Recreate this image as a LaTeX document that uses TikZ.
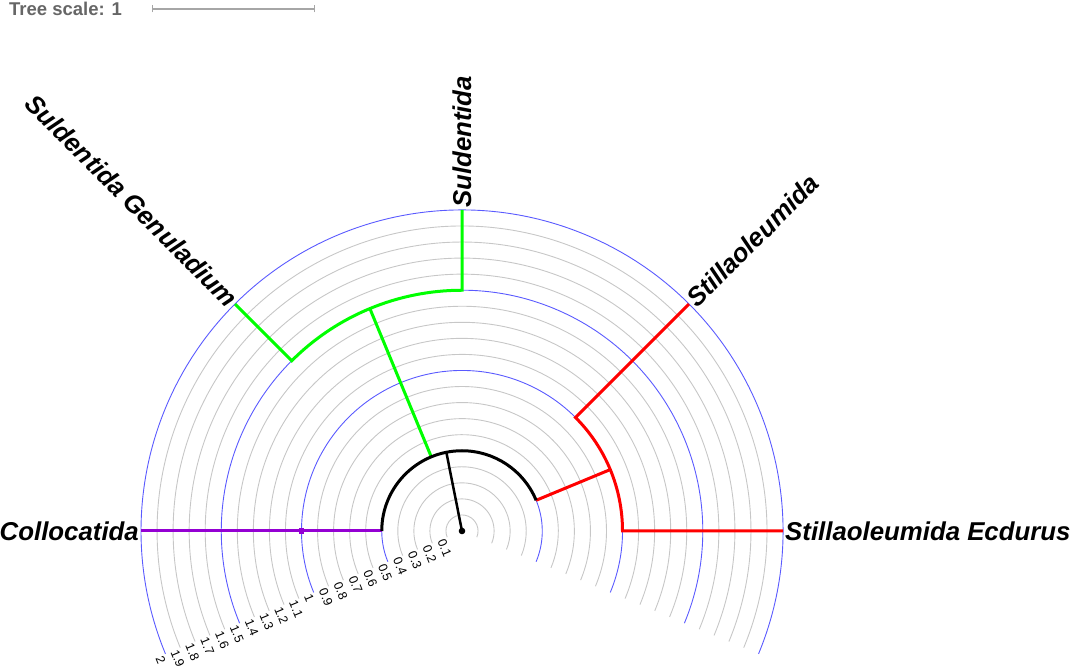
\documentclass[tikz,border=0pt]{standalone}
\usepackage{fontspec}
\setmainfont{Liberation Sans}
\usetikzlibrary{calc}
\definecolor{gridbluec}{RGB}{90,90,255}
\definecolor{purplec}{RGB}{148,0,211}
\definecolor{greenc}{RGB}{0,255,0}
\definecolor{redc}{RGB}{255,0,0}
\begin{document}
\begin{tikzpicture}[x=1pt,y=1pt,
  gridgray/.style={draw=black!22,line width=0.9pt},
  gridblue/.style={draw=gridbluec,line width=0.9pt},
  ticklabel/.style={font=\fontsize{12.5}{13}\selectfont,rotate=-67.5,anchor=west,inner sep=0pt},
  branch/.style={line width=3pt},
  leaflabel/.style={font=\fontsize{25.8}{30}\selectfont\bfseries\itshape,inner sep=2pt}]
\useasboundingbox (-462,-137) rectangle (608,531);
\def\R{160.5}
% scale
\node[anchor=west,inner sep=0pt,text=black!60,font=\fontsize{18.5}{20}\selectfont\bfseries] (scaletxt) at (-453,522) {Tree scale: 1};
\coordinate (sa) at (-309,522);
\coordinate (sb) at (-147,522);
\draw[black!35,line width=1.2pt] (sa) -- (sb);
\draw[black!35,line width=1pt] ([yshift=-3.5pt]sa) -- ([yshift=3.5pt]sa);
\draw[black!35,line width=1pt] ([yshift=-3.5pt]sb) -- ([yshift=3.5pt]sb);
% circles
\foreach \i/\lab in {1/0.1,2/0.2,3/0.3,4/0.4,5/0.5,6/0.6,7/0.7,8/0.8,9/0.9,10/1,11/1.1,12/1.2,13/1.3,14/1.4,15/1.5,16/1.6,17/1.7,18/1.8,19/1.9,20/2}{
  \pgfmathsetmacro{\r}{\i*\R/10}
  \pgfmathtruncatemacro{\m}{mod(\i,5)}
  \ifnum\m=0
    \draw[gridblue] (-22.5:\r) arc[start angle=-22.5,end angle=202.5,radius=\r];
  \else
    \draw[gridgray] (-22.5:\r) arc[start angle=-22.5,end angle=202.5,radius=\r];
  \fi
  \node[ticklabel] (t\i) at ($(202.5:\r)+(202.5:6.5)$) {\lab};
}
% tree
\coordinate (root) at (0,0);
\coordinate (n1) at (101.25:0.5*\R);
\coordinate (n1a) at (180:0.5*\R);
\coordinate (n1g) at (112.5:0.5*\R);
\coordinate (n1r) at (22.5:0.5*\R);
\coordinate (coll) at (180:2*\R);
\coordinate (collmid) at (180:\R);
\coordinate (g) at (112.5:1.5*\R);
\coordinate (ga) at (90:1.5*\R);
\coordinate (gb) at (135:1.5*\R);
\coordinate (suld) at (90:2*\R);
\coordinate (sgen) at (135:2*\R);
\coordinate (rn) at (22.5:\R);
\coordinate (ra) at (0:\R);
\coordinate (rb) at (45:\R);
\coordinate (ecd) at (0:2*\R);
\coordinate (still) at (45:2*\R);
% purple
\draw[branch,draw=purplec] (n1a) -- (coll);
\fill[purplec] ([shift={(-2.8,-2.8)}]collmid) rectangle ([shift={(2.8,2.8)}]collmid);
% green
\draw[branch,draw=greenc] (n1g) -- (g);
\draw[branch,draw=greenc] (sgen) -- (gb) arc[start angle=135,end angle=90,radius=1.5*\R] -- (suld);
% red
\draw[branch,draw=redc] (n1r) -- (rn);
\draw[branch,draw=redc] (still) -- (rb) arc[start angle=45,end angle=0,radius=\R] -- (ecd);
% black
\draw[branch] (n1a) arc[start angle=180,end angle=22.5,radius=0.5*\R];
\draw[line width=2.5pt] (root) -- (n1);
\fill (root) circle (3.3pt);
% leaf labels
\node[leaflabel,anchor=east] (lcoll) at (coll) {Collocatida};
\node[leaflabel,anchor=west] (lecd) at (ecd) {Stillaoleumida Ecdurus};
\node[leaflabel,anchor=west,rotate=90] (lsuld) at (suld) {Suldentida};
\node[leaflabel,anchor=west,rotate=45] (lstill) at (still) {Stillaoleumida};
\node[leaflabel,anchor=east,rotate=-45] (lsgen) at (sgen) {Suldentida Genuladium};
\end{tikzpicture}
\end{document}
